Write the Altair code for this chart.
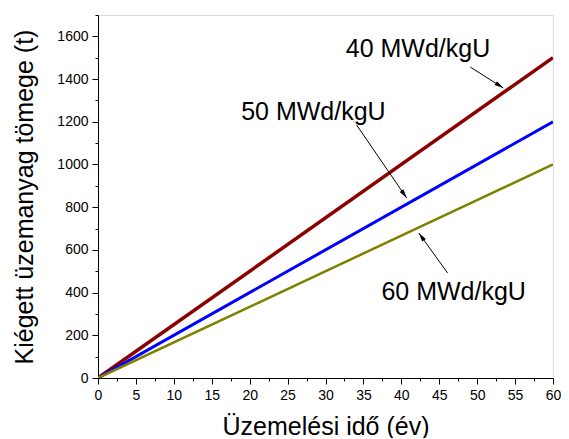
import math
import altair as alt
import pandas as pd

# ---- data ----
years = [0, 60]
series = ["40 MWd/kgU", "50 MWd/kgU", "60 MWd/kgU"]
mass_40 = [0, 1500]
mass_50 = [0, 1200]
mass_60 = [0, 1000]
colors = ["#8b0000", "#0000ff", "#808000"]
widths = [3.5, 2.5, 3.8]

x_major = list(range(0, 61, 5))
x_minor = [2.5 + 5 * i for i in range(12)]
y_major = list(range(0, 1601, 200))
y_minor = list(range(100, 1701, 200))

label_text = ["40 MWd/kgU", "50 MWd/kgU", "60 MWd/kgU"]
label_x = [42.2, 28.4, 46.9]
label_y = [1503, 1208, 365]
arrow_x1 = [49.1, 34.1, 46.1]
arrow_y1 = [1456, 1185, 492]
arrow_x2 = [53.45, 40.7, 42.3]
arrow_y2 = [1358, 843, 679]

W, H = 455, 363
XMAX, YMAX = 60, 1700
FONT = "Liberation Sans"

rows = []
for name, vals in zip(series, [mass_40, mass_50, mass_60]):
    for x, y in zip(years, vals):
        rows.append({"year": x, "mass": y, "series": name})
df = pd.DataFrame(rows)

ppx = W / XMAX
ppy = H / YMAX
angles = []
for x1, y1, x2, y2 in zip(arrow_x1, arrow_y1, arrow_x2, arrow_y2):
    dx = (x2 - x1) * ppx
    dy = -(y2 - y1) * ppy
    angles.append(math.degrees(math.atan2(dx, -dy)) % 360)

ann = pd.DataFrame({
    "text": label_text, "tx": label_x, "ty": label_y,
    "x1": arrow_x1, "y1": arrow_y1, "x2": arrow_x2, "y2": arrow_y2,
    "ang": angles,
})

xs = alt.Scale(domain=[0, XMAX], nice=False, zero=False)
ys = alt.Scale(domain=[0, YMAX], nice=False, zero=False)

common_axis = dict(grid=False, domainColor="black", tickColor="black",
                   labelColor="black", labelFont=FONT, labelFontSize=14,
                   titleFont=FONT, titleFontSize=25, titleFontWeight="normal",
                   titleColor="black", labelFlush=False, labelOverlap=False,
                   format="d")

x_major_axis = alt.Axis(values=x_major, tickSize=6, labelPadding=4, orient="bottom",
                        title="Üzemelési idő (év)", titlePadding=12, **common_axis)
y_major_axis = alt.Axis(values=y_major, tickSize=6, labelPadding=4, orient="left",
                        title="Kiégett üzemanyag tömege (t)", titlePadding=19, **common_axis)
x_minor_axis = alt.Axis(values=x_minor, tickSize=3, labels=False, domain=False,
                        orient="bottom", title=None, grid=False, tickColor="black")
y_minor_axis = alt.Axis(values=y_minor, tickSize=3, labels=False, domain=False,
                        orient="left", title=None, grid=False, tickColor="black")

lines = alt.Chart(df).mark_line(clip=True).encode(
    x=alt.X("year:Q", scale=xs, axis=x_major_axis),
    y=alt.Y("mass:Q", scale=ys, axis=y_major_axis),
    color=alt.Color("series:N", scale=alt.Scale(domain=series, range=colors), legend=None),
    strokeWidth=alt.StrokeWidth("series:N", scale=alt.Scale(domain=series, range=widths), legend=None),
)

minor = alt.Chart(df).mark_line(opacity=0).encode(
    x=alt.X("year:Q", scale=xs, axis=x_minor_axis),
    y=alt.Y("mass:Q", scale=ys, axis=y_minor_axis),
    detail="series:N",
)

arrows = alt.Chart(ann).mark_rule(color="black", strokeWidth=1).encode(
    x=alt.X("x1:Q", scale=xs, axis=None),
    y=alt.Y("y1:Q", scale=ys, axis=None),
    x2="x2:Q", y2="y2:Q",
)

heads = alt.Chart(ann).mark_point(
    shape="M0,0L-0.5,2L0.5,2Z", filled=True, color="black", opacity=1, size=80
).encode(
    x=alt.X("x2:Q", scale=xs, axis=None),
    y=alt.Y("y2:Q", scale=ys, axis=None),
    angle=alt.Angle("ang:Q", scale=None),
)

texts = alt.Chart(ann).mark_text(
    font=FONT, fontSize=25, align="center", baseline="alphabetic", color="black"
).encode(
    x=alt.X("tx:Q", scale=xs, axis=None),
    y=alt.Y("ty:Q", scale=ys, axis=None),
    text="text:N",
)

chart = alt.layer(lines, minor, arrows, heads, texts).resolve_axis(
    x="independent", y="independent"
).properties(
    width=W, height=H,
    autosize=alt.AutoSizeParams(type="none"),
    padding={"left": 90, "top": 7, "right": 8, "bottom": 60},
).configure_view(stroke="black", strokeWidth=1).configure(background="white")

chart.save("out.html", embed_options={"renderer": "svg", "actions": False})
